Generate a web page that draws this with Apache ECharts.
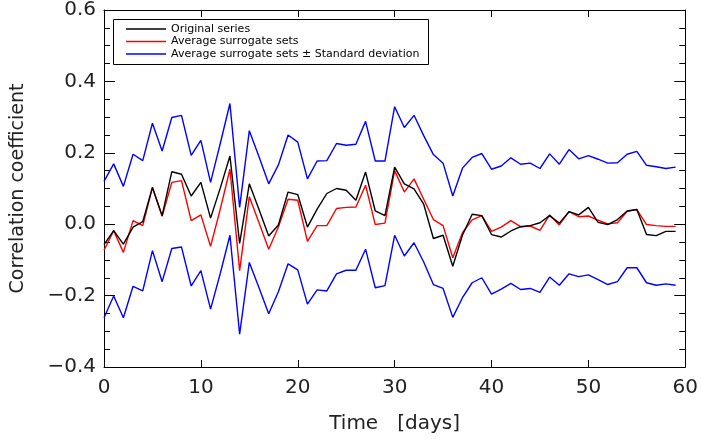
<!DOCTYPE html>
<html>
<head>
<meta charset="utf-8">
<script src="https://cdn.jsdelivr.net/npm/echarts@6/dist/echarts.min.js"></script>
<style>
html,body{margin:0;padding:0;background:#fff;}
#chart{width:701px;height:439px;}
</style>
</head>
<body>
<div id="chart"></div>
<script>
// ---- data ----
const days = [0,1,2,3,4,5,6,7,8,9,10,11,12,13,14,15,16,17,18,19,20,21,22,23,24,25,26,27,28,29,
              30,31,32,33,34,35,36,37,38,39,40,41,42,43,44,45,46,47,48,49,50,51,52,53,54,55,56,57,58,59];

const originalSeries = [-0.057,-0.018,-0.056,-0.008,0.007,0.103,0.024,0.147,0.140,0.079,
  0.117,0.017,0.101,0.191,-0.054,0.113,0.041,-0.033,-0.002,0.090,
  0.083,-0.008,0.042,0.086,0.100,0.095,0.067,0.146,0.037,0.024,
  0.160,0.113,0.099,0.056,-0.040,-0.031,-0.118,-0.031,0.028,0.024,
  -0.029,-0.036,-0.019,-0.007,-0.004,0.004,0.024,0.003,0.035,0.026,
  0.047,0.005,-0.001,0.013,0.037,0.041,-0.029,-0.032,-0.020,-0.020];

const averageSurrogate = [-0.073,-0.018,-0.079,0.010,-0.004,0.103,0.022,0.117,0.122,0.010,
  0.026,-0.062,0.042,0.154,-0.130,0.077,0.004,-0.070,-0.008,0.070,
  0.067,-0.048,-0.004,-0.004,0.044,0.047,0.048,0.109,-0.001,0.003,
  0.150,0.090,0.127,0.070,0.013,-0.004,-0.094,-0.024,0.012,0.024,
  -0.020,-0.008,0.010,-0.007,-0.005,-0.017,0.026,-0.002,0.035,0.021,
  0.023,0.011,0.001,0.004,0.036,0.041,-0.001,-0.004,-0.006,-0.006];

const upperBand = [0.120,0.169,0.106,0.196,0.178,0.283,0.205,0.299,0.305,0.193,
  0.235,0.117,0.226,0.338,0.047,0.262,0.189,0.113,0.166,0.250,
  0.230,0.127,0.177,0.178,0.226,0.221,0.224,0.288,0.177,0.177,
  0.329,0.271,0.305,0.248,0.195,0.171,0.079,0.157,0.187,0.198,
  0.154,0.163,0.186,0.168,0.171,0.156,0.197,0.168,0.209,0.183,
  0.192,0.182,0.171,0.172,0.196,0.204,0.165,0.161,0.156,0.160];

const lowerBand = [-0.262,-0.201,-0.262,-0.174,-0.187,-0.074,-0.161,-0.068,-0.064,-0.173,
  -0.130,-0.238,-0.138,-0.031,-0.308,-0.107,-0.178,-0.251,-0.189,-0.111,
  -0.128,-0.224,-0.184,-0.187,-0.139,-0.129,-0.129,-0.070,-0.178,-0.172,
  -0.031,-0.089,-0.052,-0.106,-0.169,-0.180,-0.261,-0.206,-0.164,-0.150,
  -0.196,-0.182,-0.166,-0.183,-0.180,-0.191,-0.148,-0.171,-0.139,-0.147,
  -0.142,-0.155,-0.169,-0.161,-0.122,-0.122,-0.164,-0.171,-0.167,-0.171];

const seriesNames = ['Original series', 'Average surrogate sets', 'Average surrogate sets \u00b1 Standard deviation'];
const xTitle = 'Time   [days]';
const yTitle = 'Correlation coefficient';

// ---- chart ----
const pairs = arr => arr.map((v, i) => [days[i], v]);
const FONT = 'DejaVu Sans';
const TXT = '#222';

const chart = echarts.init(document.getElementById('chart'), null, {renderer: 'canvas'});

const axisLine = {show: true, onZero: false, lineStyle: {color: '#000', width: 1}};

const option = {
  backgroundColor: '#fff',
  animation: false,
  grid: {left: 104, right: 14, top: 7, bottom: 68},
  graphic: [{
    type: 'rect', left: 113, top: 19, z: 10,
    shape: {width: 315, height: 45},
    style: {fill: '#fff', stroke: '#000', lineWidth: 1}
  }],
  legend: {
    orient: 'vertical', left: 113, top: 19, z: 20,
    padding: [4, 5, 4, 13],
    icon: 'rect',
    itemWidth: 40, itemHeight: 1.5, itemGap: 0.5,
    data: seriesNames,
    textStyle: {fontFamily: FONT, fontSize: 11, color: '#000', lineHeight: 12}
  },
  xAxis: [{
    type: 'value', position: 'bottom', min: 0, max: 60, interval: 10,
    axisLine: axisLine,
    axisTick: {show: true, inside: true, length: 7, lineStyle: {color: '#000'}},
    axisLabel: {show: true, margin: 11, fontFamily: FONT, fontSize: 20, color: TXT},
    splitLine: {show: false},
    name: xTitle, nameLocation: 'middle', nameGap: 47,
    nameTextStyle: {fontFamily: FONT, fontSize: 20, color: TXT}
  }, {
    type: 'value', position: 'top', min: 0, max: 60, interval: 10,
    axisLine: axisLine,
    axisTick: {show: true, inside: true, length: 7, lineStyle: {color: '#000'}},
    axisLabel: {show: false}, splitLine: {show: false}
  }],
  yAxis: [{
    type: 'value', position: 'left', min: -0.4, max: 0.6, interval: 0.2,
    axisLine: axisLine,
    axisTick: {show: true, inside: true, length: 11, lineStyle: {color: '#000'}},
    minorTick: {show: true, splitNumber: 4, length: 6, lineStyle: {color: '#000'}},
    axisLabel: {show: true, margin: 8, fontFamily: FONT, fontSize: 20, color: TXT,
      formatter: v => v.toFixed(1).replace('-', '\u2212')},
    splitLine: {show: false}, minorSplitLine: {show: false},
    name: yTitle, nameLocation: 'middle', nameGap: 76, nameRotate: 90,
    nameTextStyle: {fontFamily: FONT, fontSize: 19, color: TXT}
  }, {
    type: 'value', position: 'right', min: -0.4, max: 0.6, interval: 0.2,
    axisLine: axisLine,
    axisTick: {show: true, inside: true, length: 11, lineStyle: {color: '#000'}},
    minorTick: {show: true, splitNumber: 4, length: 6, lineStyle: {color: '#000'}},
    axisLabel: {show: false}, splitLine: {show: false}, minorSplitLine: {show: false}
  }],
  series: [
    {name: seriesNames[2], type: 'line', data: pairs(upperBand), showSymbol: false, symbol: 'none',
      lineStyle: {color: '#0000ff', width: 1.4}, itemStyle: {color: '#0000ff'}},
    {name: seriesNames[2], type: 'line', data: pairs(lowerBand), showSymbol: false, symbol: 'none',
      lineStyle: {color: '#0000ff', width: 1.4}, itemStyle: {color: '#0000ff'}},
    {name: seriesNames[1], type: 'line', data: pairs(averageSurrogate), showSymbol: false, symbol: 'none',
      lineStyle: {color: '#ff0000', width: 1.4}, itemStyle: {color: '#ff0000'}},
    {name: seriesNames[0], type: 'line', data: pairs(originalSeries), showSymbol: false, symbol: 'none',
      lineStyle: {color: '#000000', width: 1.4}, itemStyle: {color: '#000000'}}
  ]
};
chart.setOption(option);
</script>
</body>
</html>
